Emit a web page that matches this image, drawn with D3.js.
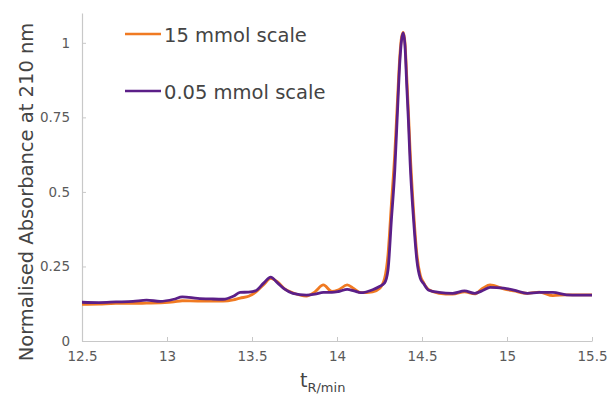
<!DOCTYPE html>
<html>
<head>
<meta charset="utf-8">
<script src="https://cdn.jsdelivr.net/npm/d3@7"></script>
<style>
  body { margin: 0; background: #fff; }
  text { font-family: "DejaVu Sans", sans-serif; }
</style>
</head>
<body>
<div id="chart"></div>
<script>
// retention time (min)
const times = [12.5, 12.6, 12.7, 12.8, 12.88, 12.96, 13.04, 13.09, 13.18, 13.26, 13.33, 13.39,
  13.43, 13.48, 13.52, 13.57, 13.61, 13.65, 13.69, 13.74, 13.82, 13.87, 13.92, 13.97, 14.01,
  14.06, 14.1, 14.14, 14.21, 14.25, 14.28, 14.3, 14.32, 14.34, 14.355, 14.37, 14.38, 14.39,
  14.4, 14.41, 14.42, 14.43, 14.45, 14.47, 14.49, 14.51, 14.54, 14.6, 14.68, 14.75, 14.81,
  14.86, 14.9, 14.98, 15.04, 15.12, 15.19, 15.27, 15.35, 15.42, 15.5];

// 15 mmol scale
const abs15 = [0.123, 0.124, 0.126, 0.126, 0.127, 0.128, 0.131, 0.135, 0.134, 0.134, 0.134, 0.138,
  0.144, 0.150, 0.163, 0.190, 0.210, 0.198, 0.176, 0.162, 0.151, 0.165, 0.188, 0.166, 0.172,
  0.188, 0.175, 0.162, 0.165, 0.176, 0.21, 0.29, 0.46, 0.63, 0.80, 0.96, 1.02, 1.035,
  1.0, 0.89, 0.77, 0.64, 0.44, 0.29, 0.22, 0.195, 0.172, 0.160, 0.157, 0.165, 0.158,
  0.178, 0.188, 0.175, 0.168, 0.160, 0.164, 0.152, 0.155, 0.155, 0.155];

// 0.05 mmol scale
const abs005 = [0.130, 0.129, 0.131, 0.133, 0.137, 0.133, 0.140, 0.148, 0.143, 0.141, 0.140, 0.150,
  0.163, 0.164, 0.168, 0.195, 0.214, 0.195, 0.175, 0.160, 0.154, 0.157, 0.163, 0.163, 0.166,
  0.173, 0.168, 0.162, 0.172, 0.183, 0.195, 0.238, 0.406, 0.573, 0.76, 0.94, 1.01, 1.033,
  0.99, 0.86, 0.74, 0.60, 0.41, 0.27, 0.21, 0.192, 0.17, 0.163, 0.160, 0.168, 0.160,
  0.170, 0.180, 0.177, 0.171, 0.160, 0.163, 0.163, 0.155, 0.154, 0.154];

const xTicks = [12.5, 13, 13.5, 14, 14.5, 15, 15.5];
const yTicks = [0, 0.25, 0.5, 0.75, 1];

const seriesNames = ["15 mmol scale", "0.05 mmol scale"];
const seriesColors = ["#f07a22", "#5b1f88"];

const width = 608, height = 396;

const svg = d3.select("#chart")
  .append("svg")
  .attr("width", width)
  .attr("height", height);

const x = d3.scaleLinear().domain([12.5, 15.5]).range([82, 592]);
const y = d3.scaleLinear().domain([0, 1.1]).range([341, 13]);

// axes
const xAxis = d3.axisBottom(x)
  .tickValues(xTicks)
  .tickFormat(d3.format(""))
  .tickSizeInner(-4)
  .tickSizeOuter(0)
  .tickPadding(10);

const yAxis = d3.axisLeft(y)
  .tickValues(yTicks)
  .tickFormat(d3.format(""))
  .tickSizeInner(-4)
  .tickSizeOuter(0)
  .tickPadding(12);

const gx = svg.append("g")
  .attr("transform", "translate(0," + y(0) + ")")
  .call(xAxis);

const gy = svg.append("g")
  .attr("transform", "translate(" + x(12.5) + ",0)")
  .call(yAxis);

[gx, gy].forEach(function (g) {
  g.select(".domain").attr("stroke", "#c8c8c8").attr("stroke-width", 1.2);
  g.selectAll(".tick line").attr("stroke", "#c8c8c8");
  g.selectAll(".tick text")
    .attr("fill", "#5a5a5a")
    .style("font-family", "DejaVu Sans, sans-serif")
    .style("font-size", "13.5px");
});

// axis titles
svg.append("text")
  .attr("transform", "translate(33,192) rotate(-90)")
  .attr("text-anchor", "middle")
  .attr("fill", "#444")
  .style("font-size", "19.5px")
  .text("Normalised Absorbance at 210 nm");

const xTitle = svg.append("text")
  .attr("x", 300)
  .attr("y", 387)
  .attr("fill", "#444")
  .style("font-size", "19px");
xTitle.append("tspan").text("t");
xTitle.append("tspan")
  .attr("dy", 5)
  .style("font-size", "13px")
  .text("R/min");

// lines
const line = d3.line()
  .x(function (d) { return x(d[0]); })
  .y(function (d) { return y(d[1]); })
  .curve(d3.curveMonotoneX);

[abs15, abs005].forEach(function (vals, i) {
  svg.append("path")
    .datum(times.map(function (t, j) { return [t, vals[j]]; }))
    .attr("fill", "none")
    .attr("stroke", seriesColors[i])
    .attr("stroke-width", 2.8)
    .attr("stroke-linejoin", "round")
    .attr("d", line);
});

// legend
const legend = svg.append("g")
  .selectAll("g")
  .data(seriesNames)
  .enter()
  .append("g")
  .attr("transform", function (d, i) { return "translate(125," + (34 + i * 57) + ")"; });

legend.append("line")
  .attr("x1", 0).attr("x2", 36)
  .attr("stroke", function (d, i) { return seriesColors[i]; })
  .attr("stroke-width", 2.5);

legend.append("text")
  .attr("x", 39)
  .attr("y", 8)
  .attr("fill", "#444")
  .style("font-size", "19.5px")
  .text(function (d) { return d; });
</script>
</body>
</html>
